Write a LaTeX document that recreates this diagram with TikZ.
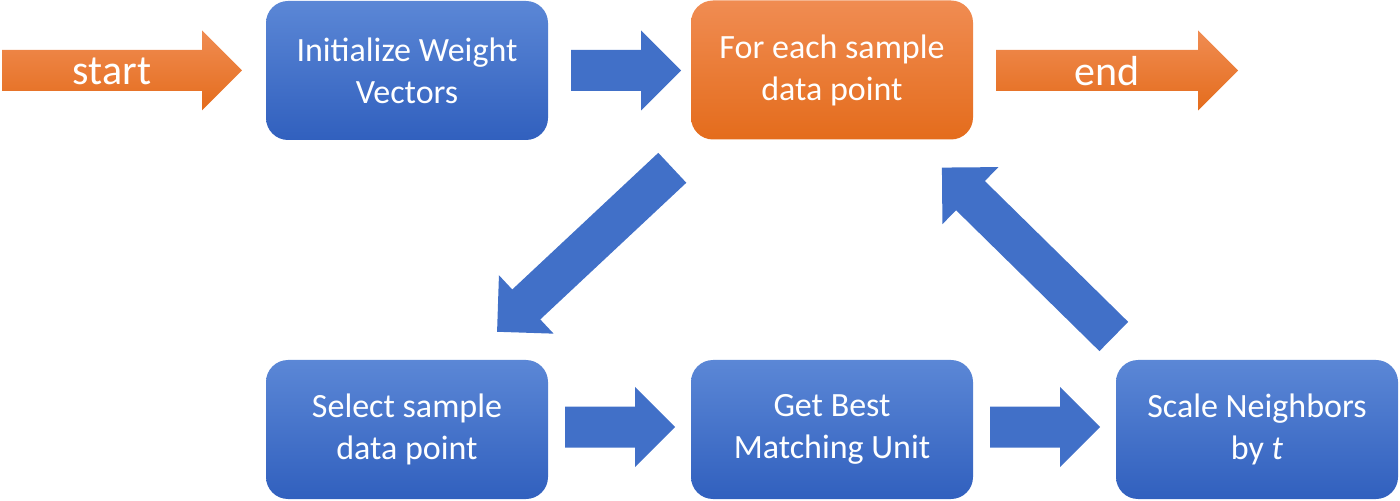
\documentclass[tikz,border=0pt]{standalone}
\usepackage{fontspec}
\setmainfont{Carlito}
\definecolor{bluetop}{HTML}{5B87D6}
\definecolor{bluebot}{HTML}{3160BE}
\definecolor{oratop}{HTML}{F08C52}
\definecolor{orabot}{HTML}{E46C1C}
\definecolor{arrowblue}{HTML}{4170C8}
\definecolor{arrowora}{HTML}{EE7D31}
\tikzset{
  box/.style={rounded corners=11pt, top color=bluetop, bottom color=bluebot, draw=none,
    minimum width=141pt, minimum height=69.5pt, text=white, align=center,
    font=\fontsize{17}{21}\selectfont, inner sep=0pt},
  orangebox/.style={box, top color=oratop, bottom color=orabot},
  bluearrow/.style={fill=arrowblue},
  orangearrow/.style={top color=oratop, bottom color=orabot},
  arrowtext/.style={text=white, font=\fontsize{21}{24}\selectfont, inner sep=0pt},
  pics/blockarrow/.style n args={2}{code={
    \path[#2] (0,-20.5) -- ({#1-40},-20.5) -- ({#1-40},-40) -- (#1,0) -- ({#1-40},40) -- ({#1-40},20.5) -- (0,20.5) -- cycle;}}
}
\begin{document}
\begin{tikzpicture}[x=0.5pt,y=-0.5pt]
\useasboundingbox (0,0) rectangle (1400,501);
% boxes
\node[box] (init) at (407,70.5) {Initialize Weight\\Vectors};
\node[orangebox] (each) at (832,70) {For each sample\\data point};
\node[box] (select) at (407,429.5) {Select sample\\data point};
\node[box] (bmu) at (832,429.5) {Get Best\\Matching Unit};
\node[box] (scale) at (1257,429.5) {Scale Neighbors\\by \textit{t}};
% block arrows
\coordinate (a0) at (2,70.5);
\pic at (a0) {blockarrow={240}{orangearrow}};
\node[arrowtext] (starttext) at (112,71) {start};
\coordinate (a1) at (571,70.5);
\pic at (a1) {blockarrow={110}{bluearrow}};
\coordinate (a2) at (996,70.5);
\pic at (a2) {blockarrow={242}{orangearrow}};
\node[arrowtext] (endtext) at (1107,71) {end};
\coordinate (a3) at (672.3,167.8);
\pic[rotate=223.1] at (a3) {blockarrow={240}{bluearrow}};
\coordinate (a4) at (1113.8,336.5);
\pic[rotate=135.5] at (a4) {blockarrow={241}{bluearrow}};
\coordinate (a5) at (565,427);
\pic at (a5) {blockarrow={110}{bluearrow}};
\coordinate (a6) at (990,427);
\pic at (a6) {blockarrow={110}{bluearrow}};
\end{tikzpicture}
\end{document}
